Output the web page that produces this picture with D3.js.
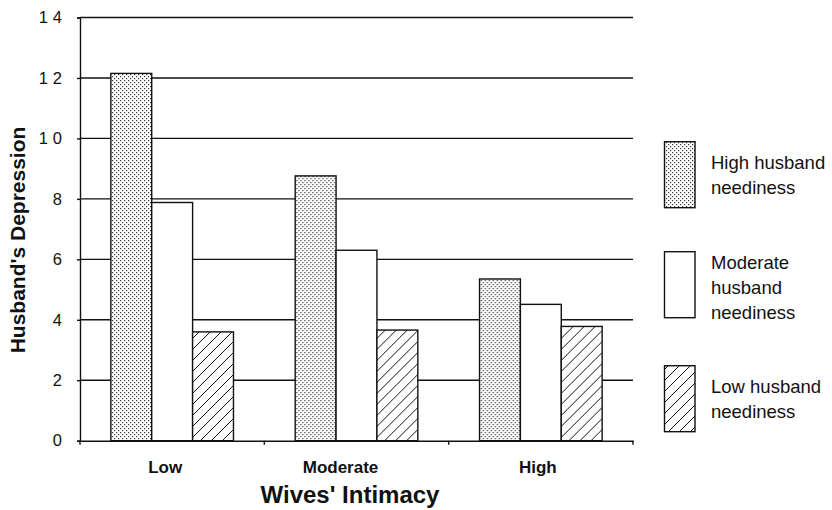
<!DOCTYPE html>
<html><head><meta charset="utf-8">
<script src="https://cdn.jsdelivr.net/npm/d3@7"></script>
<style>body{margin:0;background:#fff}svg{display:block}</style>
</head><body>
<svg id="c" width="832" height="510"></svg>
<script>
const categories = ["Low", "Moderate", "High"];
const seriesNames = ["High husband neediness", "Moderate husband neediness", "Low husband neediness"];
const highNeed = [12.15, 8.76, 5.35];
const modNeed = [7.88, 6.3, 4.51];
const lowNeed = [3.6, 3.66, 3.78];
const yTicks = [0, 2, 4, 6, 8, 10, 12, 14];
const legendLines = [["High husband", "neediness"], ["Moderate", "husband", "neediness"], ["Low husband", "neediness"]];

const series = [highNeed, modNeed, lowNeed];
const fills = ["url(#dots)", "#fff", "url(#hatch)"];
const FONT = "Liberation Sans, Arial, Helvetica, sans-serif";

const svg = d3.select("#c");
const defs = svg.append("defs");
const dp = defs.append("pattern").attr("id", "dots").attr("patternUnits", "userSpaceOnUse")
  .attr("width", 4).attr("height", 4);
dp.append("rect").attr("width", 4).attr("height", 4).attr("fill", "#fff");
dp.append("rect").attr("x", 0).attr("y", 0).attr("width", 1.2).attr("height", 1.2).attr("fill", "#333");
dp.append("rect").attr("x", 2).attr("y", 2).attr("width", 1.2).attr("height", 1.2).attr("fill", "#333");
const hp = defs.append("pattern").attr("id", "hatch").attr("patternUnits", "userSpaceOnUse")
  .attr("width", 11).attr("height", 11);
hp.append("rect").attr("width", 11).attr("height", 11).attr("fill", "#fff");
hp.append("path").attr("d", "M-1,12 L12,-1 M-3,3 L3,-3 M8,14 L14,8").attr("stroke", "#111").attr("stroke-width", 1);

const x0 = 80, x1 = 633, yTop = 17.5, yBot = 440.7;
const x = d3.scaleBand().domain(categories).range([x0, x1]).paddingInner(0).paddingOuter(0);
const y = d3.scaleLinear().domain([0, 14]).range([yBot, yTop]);
const xs = d3.scaleBand().domain(d3.range(3)).range([0, x.bandwidth()]).paddingOuter(0.755).paddingInner(0);

// gridlines
svg.append("g").selectAll("line").data(yTicks.filter(d => d > 0)).join("line")
  .attr("x1", x0).attr("x2", x1).attr("y1", d => y(d)).attr("y2", d => y(d))
  .attr("stroke", "#111").attr("stroke-width", 1.4);

// y axis
const ya = svg.append("g").attr("transform", `translate(${x0},0)`)
  .call(d3.axisLeft(y).tickValues(yTicks).tickSize(3).tickPadding(10).tickFormat(d3.format("d")));
ya.select(".domain").attr("stroke", "#111").attr("stroke-width", 1.4);
ya.selectAll(".tick line").attr("stroke", "#111").attr("stroke-width", 1.4);
ya.selectAll("text").attr("font-family", FONT).attr("font-size", 16.5)
  .attr("fill", "#111").style("letter-spacing", "5px");

// bars
categories.forEach((c, i) => {
  const g = svg.append("g").attr("transform", `translate(${x(c)},0)`);
  series.forEach((s, j) => {
    g.append("rect").attr("x", xs(j)).attr("width", xs.bandwidth())
      .attr("y", y(s[i])).attr("height", y(0) - y(s[i]))
      .attr("fill", fills[j]).attr("stroke", "#111").attr("stroke-width", 1.4);
  });
});

// x axis
const labelShift = [-7, -16, -3];
const xa = svg.append("g").attr("transform", `translate(0,${yBot})`)
  .call(d3.axisBottom(x).tickSize(0).tickPadding(18));
xa.select(".domain").attr("stroke", "#111").attr("stroke-width", 1.6);
xa.selectAll("text").attr("font-family", FONT).attr("font-size", 17)
  .attr("font-weight", "bold").attr("fill", "#111").attr("dy", null).attr("y", 32)
  .attr("x", (d, i) => labelShift[i]);
const bounds = categories.map(c => x(c)).concat([x1]);
svg.append("g").selectAll("line").data(bounds).join("line")
  .attr("x1", d => d).attr("x2", d => d).attr("y1", yBot).attr("y2", yBot + 4)
  .attr("stroke", "#111").attr("stroke-width", 1.4);

// axis titles
svg.append("text").attr("x", 350).attr("y", 503).attr("text-anchor", "middle")
  .attr("font-family", FONT).attr("font-size", 24).attr("font-weight", "bold")
  .attr("fill", "#111").text("Wives' Intimacy");
svg.append("text").attr("transform", `translate(25,240) rotate(-90)`).attr("text-anchor", "middle")
  .attr("font-family", FONT).attr("font-size", 21).attr("font-weight", "bold")
  .attr("fill", "#111").text("Husband's Depression");

// legend
const legTops = [141.7, 251.7, 365.7];
seriesNames.forEach((n, j) => {
  const g = svg.append("g");
  g.append("rect").attr("x", 664.5).attr("y", legTops[j]).attr("width", 30.5).attr("height", 66)
    .attr("fill", fills[j]).attr("stroke", "#111").attr("stroke-width", 1.4);
  const lines = legendLines[j];
  const t = g.append("text").attr("font-family", FONT).attr("font-size", 18.5)
    .attr("fill", "#111");
  const startY = lines.length === 2 ? legTops[j] + 27 : legTops[j] + 17.5;
  lines.forEach((l, k) => t.append("tspan").attr("x", 711).attr("y", startY + k * 25).text(l));
});
</script>
</body></html>
